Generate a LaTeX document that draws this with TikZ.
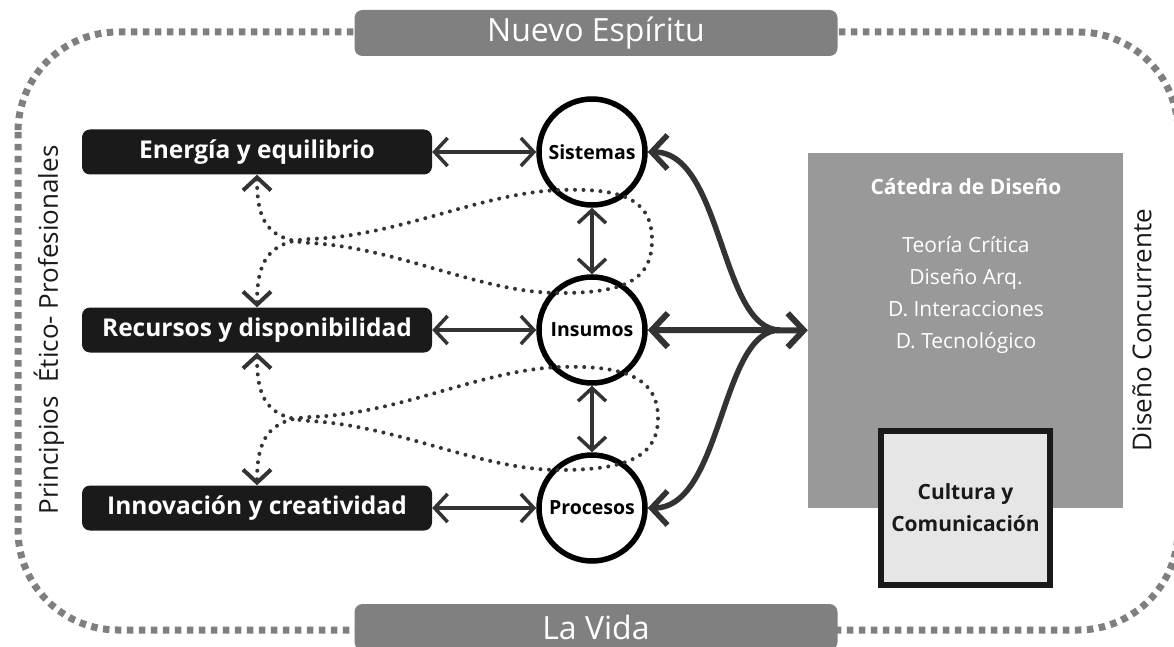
\documentclass[tikz,border=0pt]{standalone}
\usepackage{fontspec}
\setmainfont{Open Sans}
\usetikzlibrary{arrows.meta}
\definecolor{oscuro}{HTML}{333333}
\definecolor{negro}{HTML}{1A1A1A}
\definecolor{grisborde}{HTML}{7F7F7F}
\definecolor{grisetiqueta}{HTML}{808080}
\definecolor{griscatedra}{HTML}{999999}
\definecolor{grisclaro}{HTML}{E6E6E6}

\begin{document}
\begin{tikzpicture}[x=1pt, y=-1pt,
    marco/.style={draw=grisborde, line width=7pt, dash pattern=on 6.5pt off 5.5pt, rounded corners=100pt},
    etiqueta/.style={fill=grisetiqueta, rounded corners=8pt, minimum width=483pt, minimum height=46pt, text=white, font=\fontsize{32}{36}\selectfont},
    eje/.style={fill=negro, rounded corners=8pt, minimum width=350pt, minimum height=45pt, text=white, font=\fontsize{24.5}{28}\selectfont\bfseries},
    nodo/.style={circle, draw=black, line width=5.5pt, minimum size=106pt, inner sep=0pt, font=\fontsize{19.5}{22}\selectfont\bfseries},
    lateral/.style={rotate=90, text=negro, font=\fontsize{26}{30}\selectfont},
    bloque/.style={fill=griscatedra, minimum width=315pt, minimum height=355pt},
    caja/.style={fill=grisclaro, draw=negro, line width=6pt, minimum width=169pt, minimum height=154pt, align=center, text=negro, font=\fontsize{21}{32}\selectfont\bfseries},
    flecha/.style={draw=oscuro, line width=3.5pt, <->, >={Straight Barb[length=13pt,width=28pt]}},
    gruesa/.style={draw=oscuro, line width=5.5pt, >={Straight Barb[length=16pt,width=34pt]}},
    punteada/.style={draw=oscuro, line width=4pt, line cap=round, dash pattern=on 0pt off 8.5pt, <->, >={Straight Barb[length=13pt,width=28pt]}}]

    \useasboundingbox (0, 0) rectangle (1174, 647);

    % Outer frame and its labels
    \draw[marco] (18, 32) rectangle (1178, 630);
    \node at (596, 33) (espiritu) [etiqueta] {Nuevo Espíritu};
    \node at (596, 627) (vida) [etiqueta] {La Vida};
    \node at (49, 330) (principios) [lateral] {Principios~ Ético- Profesionales};
    \node at (1142, 330) (concurrente) [lateral] {Diseño Concurrente};

    % Left side principles
    \node at (257, 152) (energia) [eje] {Energía y equilibrio};
    \node at (257, 330) (recursos) [eje] {Recursos y disponibilidad};
    \node at (257, 508) (innovacion) [eje] {Innovación y creatividad};

    % Middle circles
    \node at (592, 152) (sistemas) [nodo] {Sistemas};
    \node at (592, 330) (insumos) [nodo] {Insumos};
    \node at (592, 508) (procesos) [nodo] {Procesos};

    % Right side block
    \node at (965.5, 330.5) (catedra) [bloque] {};
    \node at (966, 187) (titulo) [text=white, font=\fontsize{21}{24}\selectfont\bfseries] {Cátedra de Diseño};
    \node at (966, 295) (materias) [text=white, align=center, font=\fontsize{21}{32}\selectfont] {Teoría Crítica\\Diseño Arq.\\D. Interacciones\\D. Tecnológico};
    \node at (965.5, 508) (cultura) [caja] {Cultura y\\Comunicación};

    % Edges
    \draw[flecha] (energia) -- (sistemas);
    \draw[flecha] (recursos) -- (insumos);
    \draw[flecha] (innovacion) -- (procesos);
    \draw[flecha] (sistemas) -- (insumos);
    \draw[flecha] (insumos) -- (procesos);

    \coordinate (union) at (780, 330);
    \draw[gruesa, line width=6pt, <->] (insumos) -- (catedra);
    \draw[gruesa, ->] (union) .. controls +(-60, 0) and +(75, 0) .. (sistemas.east);
    \draw[gruesa, ->] (union) .. controls +(-60, 0) and +(75, 0) .. (procesos.east);

    % Dotted loops
    \draw[punteada] (energia.south) .. controls (257, 222) and (268, 240) .. (310, 243)
        .. controls (400, 248) and (480, 293) .. (560, 293)
        .. controls (625, 293) and (652, 280) .. (652, 240)
        .. controls (652, 198) and (620, 188) .. (560, 190)
        .. controls (480, 193) and (400, 236) .. (310, 239)
        .. controls (268, 241) and (257, 262) .. (recursos.north);
    \draw[punteada] (recursos.south) .. controls (257, 400) and (268, 418) .. (310, 421)
        .. controls (400, 426) and (480, 470) .. (560, 470)
        .. controls (630, 470) and (658, 455) .. (658, 418)
        .. controls (658, 378) and (625, 365) .. (560, 367)
        .. controls (480, 370) and (400, 414) .. (310, 417)
        .. controls (268, 419) and (257, 440) .. (innovacion.north);
\end{tikzpicture}
\end{document}
